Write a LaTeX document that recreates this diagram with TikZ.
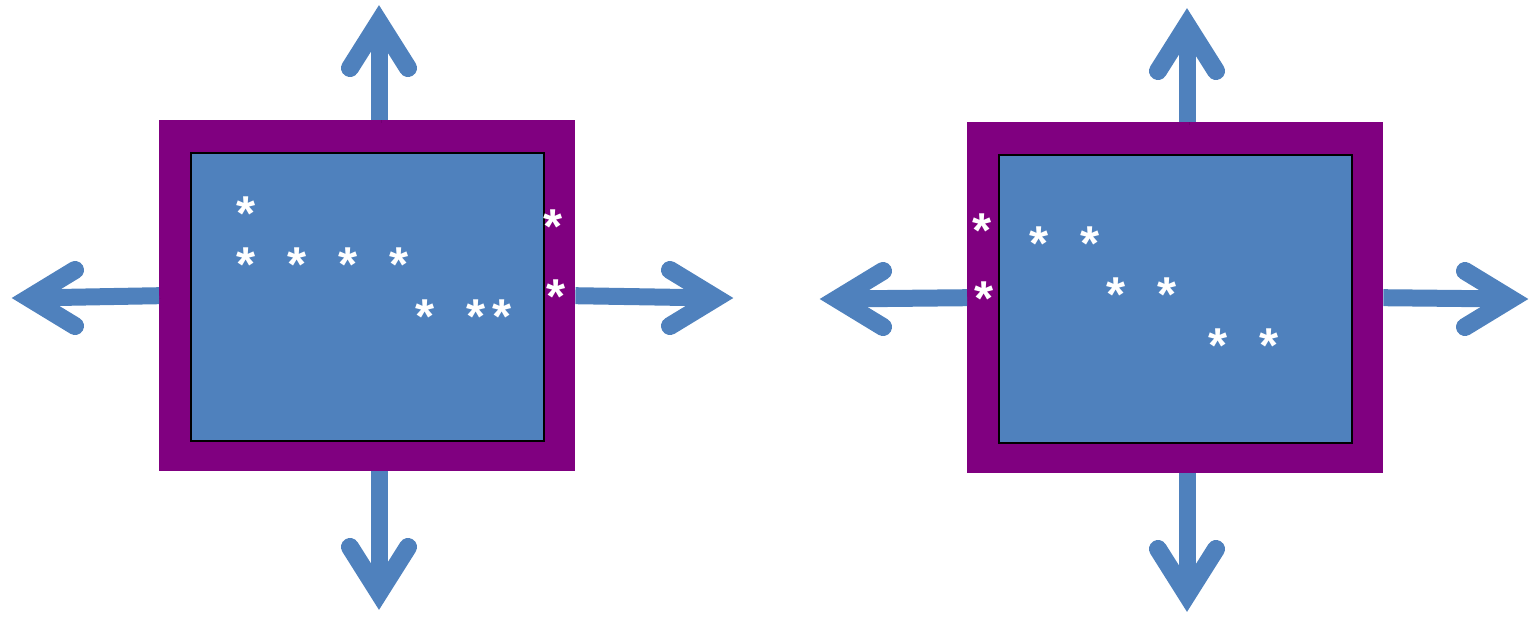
\documentclass[tikz,border=0pt]{standalone}
\usepackage{fontspec}
\setmainfont{Liberation Sans}
\usetikzlibrary{calc}
\definecolor{ablue}{HTML}{4F81BD}
\definecolor{apurple}{HTML}{800080}
\begin{document}
\begin{tikzpicture}[x=1pt,y=-1pt,
  outerbox/.style={fill=apurple, draw=none, minimum width=416pt, minimum height=351pt, inner sep=0pt, anchor=north west},
  innerbox/.style={fill=ablue, draw=black, line width=1.8pt, minimum width=353pt, minimum height=288pt, inner sep=0pt, anchor=north west},
  shade/.style={preaction={draw=black, opacity=0.12, transform canvas={shift={(2pt,-3pt)}}}},
  shaft/.style={draw=ablue, line width=17pt, shade},
  head/.style={draw=ablue, line width=18pt, line cap=round, line join=miter, miter limit=10, shade},
  star/.style={text=white, font=\bfseries\fontsize{49}{49}\selectfont, inner sep=0pt, anchor=base, yshift=-23pt}]
\useasboundingbox (0,0) rectangle (1529,616);

% boxes
\node[outerbox] (L) at (159,120) {};
\node[innerbox] (Li) at (190,152) {};
\node[outerbox] (R) at (967,122) {};
\node[innerbox] (Ri) at (998,154) {};

% arrow vertices
\coordinate (Lu) at (379,22);
\coordinate (Ld) at (379,593);
\coordinate (Ll) at (29,298);
\coordinate (Lr) at (716,298);
\coordinate (Ru) at (1187,25);
\coordinate (Rd) at (1187,595);
\coordinate (Rl) at (837,299);
\coordinate (Rr) at (1511,299);

% shafts
\draw[shaft] (Lu |- L.north) -- (Lu);
\draw[shaft] (Ld |- L.south) -- (Ld);
\draw[shaft] (L.west) -- (Ll);
\draw[shaft] (L.east) -- (Lr);
\draw[shaft] (Ru |- R.north) -- (Ru);
\draw[shaft] (Rd |- R.south) -- (Rd);
\draw[shaft] (R.west) -- (Rl);
\draw[shaft] (R.east) -- (Rr);

% heads
\draw[head] ($(Lu)+(-29,46)$) -- (Lu) -- ($(Lu)+(29,46)$);
\draw[head] ($(Ld)+(-29,-46)$) -- (Ld) -- ($(Ld)+(29,-46)$);
\draw[head] ($(Ll)+(46,-28)$) -- (Ll) -- ($(Ll)+(46,28)$);
\draw[head] ($(Lr)+(-46,-28)$) -- (Lr) -- ($(Lr)+(-46,28)$);
\draw[head] ($(Ru)+(-29,46)$) -- (Ru) -- ($(Ru)+(29,46)$);
\draw[head] ($(Rd)+(-29,-46)$) -- (Rd) -- ($(Rd)+(29,-46)$);
\draw[head] ($(Rl)+(46,-28)$) -- (Rl) -- ($(Rl)+(46,28)$);
\draw[head] ($(Rr)+(-46,-28)$) -- (Rr) -- ($(Rr)+(-46,28)$);

% stars, left box
\node[star] (a1) at (245.7,207.7) {*};
\node[star] (a2) at (245.7,258.3) {*};
\node[star] (a3) at (297,258.3) {*};
\node[star] (a4) at (348,258.3) {*};
\node[star] (a5) at (399.3,258.3) {*};
\node[star] (a6) at (425.3,310) {*};
\node[star] (a7) at (476.3,310) {*};
\node[star] (a8) at (502,310) {*};
\node[star] (a9) at (553.3,220) {*};
\node[star] (a10) at (555.7,290) {*};

% stars, right box
\node[star] (b1) at (981.7,224.3) {*};
\node[star] (b2) at (984.3,292.7) {*};
\node[star] (b3) at (1038.7,237.7) {*};
\node[star] (b4) at (1090,237.7) {*};
\node[star] (b5) at (1115.7,288.7) {*};
\node[star] (b6) at (1166.7,288.7) {*};
\node[star] (b7) at (1218.3,339.3) {*};
\node[star] (b8) at (1269.3,339.3) {*};
\end{tikzpicture}
\end{document}
